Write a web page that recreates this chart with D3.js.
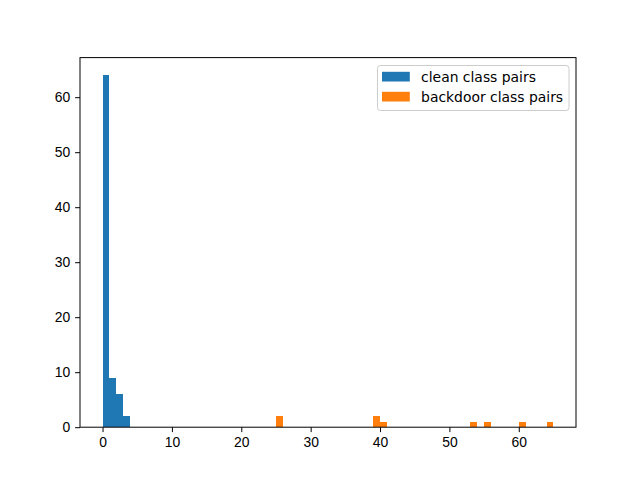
<!DOCTYPE html>
<html>
<head>
<meta charset="utf-8">
<script src="https://cdn.jsdelivr.net/npm/d3@7"></script>
<style>
  body { margin: 0; background: #fff; }
  svg { display: block; font-family: "DejaVu Sans", sans-serif; }
  .axis text { font-size: 13.9px; fill: #000; }
  .axis path, .axis line { stroke: #000; stroke-width: 1; }
</style>
</head>
<body>
<svg id="chart" width="640" height="480"></svg>
<script>
// histogram bins: [x0, x1) and counts
var cleanBins = [[0, 1], [1, 2], [2, 3], [3, 4]];
var cleanCounts = [64, 9, 6, 2];
var backdoorBins = [[25, 26], [39, 40], [40, 41], [53, 54], [55, 56], [60, 61], [64, 65]];
var backdoorCounts = [2, 2, 1, 1, 1, 1, 1];
var seriesNames = ["clean class pairs", "backdoor class pairs"];
var colors = ["#1f77b4", "#ff7f0e"];
var xTicks = [0, 10, 20, 30, 40, 50, 60];
var yTicks = [0, 10, 20, 30, 40, 50, 60];

var margin = {left: 80, top: 57.6, right: 64, bottom: 52.8};
var W = 640, H = 480;

var svg = d3.select("#chart");

var x = d3.scaleLinear().domain([-3.25, 68.25]).range([margin.left, W - margin.right]);
var y = d3.scaleLinear().domain([0, 64 * 1.05]).range([H - margin.bottom, margin.top]);

var series = [
  {bins: cleanBins, counts: cleanCounts},
  {bins: backdoorBins, counts: backdoorCounts}
];

series.forEach(function (s, i) {
  svg.append("g")
    .attr("shape-rendering", "crispEdges")
    .selectAll("rect")
    .data(s.bins)
    .enter().append("rect")
    .attr("x", function (d) { return x(d[0]); })
    .attr("width", function (d) { return x(d[1]) - x(d[0]); })
    .attr("y", function (d, j) { return y(s.counts[j]); })
    .attr("height", function (d, j) { return y(0) - y(s.counts[j]); })
    .attr("fill", colors[i]);
});

// axes
svg.append("g")
  .attr("class", "axis")
  .attr("transform", "translate(0," + (H - margin.bottom) + ")")
  .call(d3.axisBottom(x).tickValues(xTicks).tickSize(4.9).tickPadding(4.9).tickSizeOuter(0));

svg.append("g")
  .attr("class", "axis")
  .attr("transform", "translate(" + margin.left + ",0)")
  .call(d3.axisLeft(y).tickValues(yTicks).tickSize(4.9).tickPadding(4.9).tickSizeOuter(0));

svg.selectAll(".axis .domain").remove();

// frame
svg.append("rect")
  .attr("x", margin.left)
  .attr("y", margin.top)
  .attr("width", W - margin.left - margin.right)
  .attr("height", H - margin.top - margin.bottom)
  .attr("fill", "none")
  .attr("stroke", "#000")
  .attr("stroke-width", 1);

// legend
var lg = svg.append("g").attr("transform", "translate(377.5,65.5)");
lg.append("rect")
  .attr("width", 191.5)
  .attr("height", 45)
  .attr("rx", 3)
  .attr("fill", "#fff")
  .attr("fill-opacity", 0.8)
  .attr("stroke", "#ccc");

seriesNames.forEach(function (name, i) {
  var row = lg.append("g").attr("transform", "translate(0," + (i * 20) + ")");
  row.append("rect")
    .attr("x", 4.5)
    .attr("y", 6.3)
    .attr("width", 27.8)
    .attr("height", 9.7)
    .attr("fill", colors[i]);
  row.append("text")
    .attr("x", 43.6)
    .attr("y", 16)
    .attr("font-size", "13.9px")
    .text(name);
});
</script>
</body>
</html>
